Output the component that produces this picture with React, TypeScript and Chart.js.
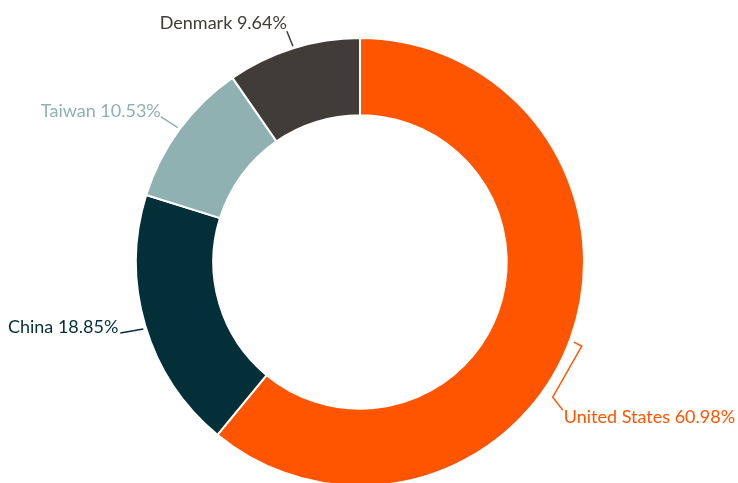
import React, { useEffect, useRef } from "react";
import { Chart, registerables } from "chart.js";

Chart.register(...registerables);

const countries = ["United States", "China", "Taiwan", "Denmark"];
const shares = [60.98, 18.85, 10.53, 9.64];
const colors = ["#FF5500", "#032F38", "#8FB1B1", "#403C37"];
const labelTexts = ["United States 60.98%", "China 18.85%", "Taiwan 10.53%", "Denmark 9.64%"];

// leader-line layout per label: path points relative to anchor on the outer edge,
// text alignment and text offset relative to the last path point
const leaderLayout = [
  { path: [[2, 4], [10, 8], [-19, 59], [-9, 72]], align: "left", tx: 1, ty: 13 },
  { path: [[-1, 3], [-24, 7]], align: "right", tx: -2, ty: 0 },
  { path: [[-1, -1], [-18, -12]], align: "right", tx: 0, ty: 0 },
  { path: [[0, -1], [-6, -16]], align: "right", tx: 0, ty: -2 },
];

const labelPlugin = {
  id: "leaderLabels",
  afterDatasetsDraw(chart: any) {
    const ctx = chart.ctx;
    const meta = chart.getDatasetMeta(0);
    meta.data.forEach((arc: any, i: number) => {
      const { x, y, startAngle, endAngle, outerRadius } = arc.getProps(
        ["x", "y", "startAngle", "endAngle", "outerRadius"],
        true
      );
      const mid = (startAngle + endAngle) / 2;
      const ax = x + Math.cos(mid) * (outerRadius + 1);
      const ay = y + Math.sin(mid) * (outerRadius + 1);
      const lay = leaderLayout[i];
      ctx.save();
      ctx.strokeStyle = colors[i];
      ctx.lineWidth = 1.5;
      ctx.beginPath();
      lay.path.forEach((p, k) => {
        const px = ax + p[0];
        const py = ay + p[1];
        if (k === 0) ctx.moveTo(px, py);
        else ctx.lineTo(px, py);
      });
      ctx.stroke();
      const last = lay.path[lay.path.length - 1];
      ctx.fillStyle = colors[i];
      ctx.font = "400 18px Lato";
      ctx.textAlign = lay.align;
      ctx.textBaseline = "alphabetic";
      ctx.fillText(labelTexts[i], ax + last[0] + lay.tx, ay + last[1] + lay.ty);
      ctx.restore();
    });
  },
};

export default function App() {
  const ref = useRef<HTMLCanvasElement>(null);
  useEffect(() => {
    document.body.style.overflow = "hidden";
    const chart = new Chart(ref.current!, {
      type: "doughnut",
      data: {
        labels: countries,
        datasets: [
          {
            data: shares,
            backgroundColor: colors,
            borderColor: "#ffffff",
            borderWidth: 2,
          },
        ],
      },
      options: {
        responsive: false,
        animation: false,
        cutout: "65.5%",
        layout: { padding: { top: 37, left: 135, right: 153, bottom: 53 } },
        plugins: {
          legend: { display: false },
          tooltip: { enabled: false },
        },
      },
      plugins: [labelPlugin],
    });
    return () => chart.destroy();
  }, []);
  return (
    <div style={{ position: "fixed", left: 0, top: 0, width: 738, height: 483, overflow: "hidden", background: "#fff" }}>
      <canvas ref={ref} width={738} height={540} style={{ display: "block" }} />
    </div>
  );
}
